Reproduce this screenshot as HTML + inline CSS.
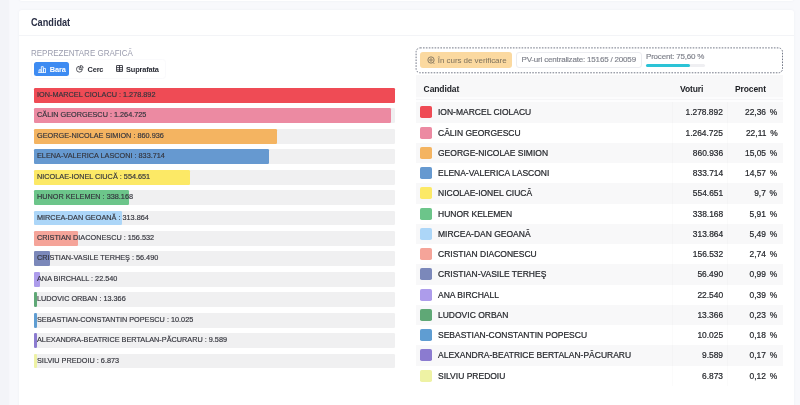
<!DOCTYPE html>
<html lang="ro"><head><meta charset="utf-8"><title>Candidat</title>
<style>
*{box-sizing:border-box;margin:0;padding:0}
html,body{width:800px;height:405px;overflow:hidden}
body{background:#f8f9fc;font-family:"Liberation Sans",sans-serif;position:relative;color:#212529}
.strip{position:absolute;left:-2px;top:0;width:11.4px;height:405px;background:#f3f4f8;box-shadow:0 0 1.5px #f3f4f8}
.prev{position:absolute;left:19.2px;top:-10px;width:775px;height:11.3px;background:#fff;border-radius:0 0 3px 3px;box-shadow:0 0 3px rgba(40,50,90,.05)}
.card{position:absolute;left:19.3px;top:9.5px;width:775px;height:420px;background:#fff;border-radius:3px 3px 0 0;box-shadow:0 0 3px rgba(40,50,90,.05)}
.hd{position:absolute;left:0;top:0;width:775px;height:26.1px;border-bottom:1px solid #f3f4f7}
.hd b{position:absolute;left:11.7px;top:6.1px;font-size:10px;line-height:14px;font-weight:700;color:#2a2f45;transform:scaleX(.915);transform-origin:0 50%}
.abs{position:absolute}
.lbl{position:absolute;left:31.4px;top:47.1px;font-size:8.9px;line-height:13px;color:#9a9cae;white-space:nowrap;transform:scaleX(.9);transform-origin:0 50%}
.btn{position:absolute;top:62.3px;height:13.3px;font-size:7.4px;line-height:13.4px;letter-spacing:-0.15px;font-weight:700;white-space:nowrap;color:#2b2d36}
.btn svg{position:absolute;top:3px;left:0}
.b1{left:33.6px;width:35.6px;background:#3d8bf2;border-radius:2.5px;color:#fff}
.trk{position:absolute;left:33.6px;width:361px;height:14.8px;background:#f0f0f1;border-radius:1.3px}
.fill{position:absolute;left:0;top:0;height:100%;border-radius:1.3px}
.bl{position:absolute;left:3.4px;top:0;line-height:14.1px;font-size:7.8px;transform:scaleX(.935);transform-origin:0 50%;color:#34353d;-webkit-text-stroke:0.18px #34353d;white-space:nowrap}
.status{position:absolute;left:415px;top:46.5px;width:370px;height:28px;overflow:visible}
.badge{position:absolute;left:420.2px;top:52.2px;width:92px;height:16px;letter-spacing:-0.05px;background:#fbd9a0;border-radius:3px;color:#7d715c;font-size:8px;line-height:17.2px;white-space:nowrap}
.pv{position:absolute;left:515.5px;top:52.2px;width:126.5px;height:16px;border:1px solid #ebecf0;border-radius:3px;color:#7f818b;-webkit-text-stroke:0.15px #7f818b;font-size:8px;letter-spacing:-0.18px;line-height:14.2px;white-space:nowrap;padding-left:5px}
.pr{position:absolute;left:646px;top:51.4px;letter-spacing:-0.2px;font-size:8px;line-height:12px;color:#7f818b;-webkit-text-stroke:0.15px #7f818b;white-space:nowrap}
.pg{position:absolute;left:646px;top:63.6px;width:59px;height:3.6px;border-radius:2px;background:#efeff2}
.pg i{display:block;width:43.9px;height:3.6px;border-radius:2px;background:#2cc3d6}
.th{position:absolute;left:416px;top:75px;width:367px;height:22.3px;background:#f8f8f9;font-size:8.5px;letter-spacing:-0.1px;font-weight:700;color:#1d1f24}
.th span{position:absolute;top:8px;line-height:12px;white-space:nowrap}
.row{position:absolute;left:416px;width:367px;height:20.25px;font-size:9.2px;color:#25272c;background:#fff;-webkit-text-stroke:0.22px #25272c}
.row.odd{background:#f8f8f9}
.row span{position:absolute;top:0.2px;line-height:20.65px;white-space:nowrap}
.sw{position:absolute;left:4.3px;top:4.2px;width:11.8px;height:11.8px;border-radius:1.8px}
.nm{left:22.4px;transform:scaleX(.925);transform-origin:0 50%}
.vt{right:60.2px;text-align:right;transform:scaleX(.915);transform-origin:100% 50%}
.pc{right:5.5px;text-align:right;transform:scaleX(.915);transform-origin:100% 50%;word-spacing:1.6px}
.vline{position:absolute;top:102.3px;width:1px;height:284px;background:rgba(0,0,20,.014)}
.grp{position:absolute;left:31px;top:59.2px;width:134.8px;height:19.5px;border:1px solid #fafafc;border-radius:3.5px}
.thb{position:absolute;left:416px;top:97.3px;width:367px;height:5px;background:linear-gradient(#fcfcfd 0,#fcfcfd 34%,#f5f5f7 34%,#f5f5f7 62%,#fdfdfe 62%)}
</style></head><body>
<div class="strip"></div>
<div class="prev"></div>
<div class="card"><div class="hd"><b>Candidat</b></div></div>
<div class="lbl">REPREZENTARE GRAFICĂ</div>
<div class="grp"></div>
<div class="btn b1"><svg width="8.6" height="7" viewBox="0 0 16 13" style="left:4.2px;top:3.4px" fill="none" stroke="#fff" stroke-width="1.5"><path d="M0.3 12.2h15.4"/><path d="M2 12V7h3.6v5M6.2 12V1.2h3.6V12M10.4 12V4.5H14V12"/></svg><span style="position:absolute;left:16.2px;top:.6px">Bara</span></div>
<div class="btn" style="left:76.3px"><svg width="7.6" height="7.6" viewBox="0 0 16 16" style="top:2.8px;left:.2px" fill="none" stroke="#2b2d36" stroke-width="1.6"><path d="M6.8 2.6A6.2 6.2 0 1 0 13.4 9.2H6.8z"/><path d="M9.6 0.9a5.6 5.6 0 0 1 5.5 5.5H9.6z"/></svg><span style="position:absolute;left:11.2px;top:.6px">Cerc</span></div>
<div class="btn" style="left:115.3px"><svg width="7" height="7" viewBox="0 0 16 16" style="top:3px;left:.4px" fill="none" stroke="#2b2d36" stroke-width="2"><rect x="1" y="1" width="14" height="14" rx="1"/><path d="M1 6h14M8 1v14M1 11h14"/></svg><span style="position:absolute;left:10.8px;top:.6px">Suprafata</span></div>
<div class="trk" style="top:88.00px"><div class="fill" style="width:361.0px;background:#ef4b55"></div><span class="bl">ION-MARCEL CIOLACU : 1.278.892</span></div>
<div class="trk" style="top:108.43px"><div class="fill" style="width:357.0px;background:#ec8aa2"></div><span class="bl">CĂLIN GEORGESCU : 1.264.725</span></div>
<div class="trk" style="top:128.86px"><div class="fill" style="width:243.0px;background:#f4b461"></div><span class="bl">GEORGE-NICOLAE SIMION : 860.936</span></div>
<div class="trk" style="top:149.29px"><div class="fill" style="width:235.3px;background:#6699d0"></div><span class="bl">ELENA-VALERICA LASCONI : 833.714</span></div>
<div class="trk" style="top:169.72px"><div class="fill" style="width:156.6px;background:#fce966"></div><span class="bl">NICOLAE-IONEL CIUCĂ : 554.651</span></div>
<div class="trk" style="top:190.15px"><div class="fill" style="width:95.5px;background:#6cc58a"></div><span class="bl">HUNOR KELEMEN : 338.168</span></div>
<div class="trk" style="top:210.58px"><div class="fill" style="width:88.6px;background:#acd6f8"></div><span class="bl">MIRCEA-DAN GEOANĂ : 313.864</span></div>
<div class="trk" style="top:231.01px"><div class="fill" style="width:44.2px;background:#f5a499"></div><span class="bl">CRISTIAN DIACONESCU : 156.532</span></div>
<div class="trk" style="top:251.44px"><div class="fill" style="width:16.0px;background:#7b88ba"></div><span class="bl">CRISTIAN-VASILE TERHEŞ : 56.490</span></div>
<div class="trk" style="top:271.87px"><div class="fill" style="width:6.4px;background:#ad9ceb"></div><span class="bl">ANA BIRCHALL : 22.540</span></div>
<div class="trk" style="top:292.30px"><div class="fill" style="width:3.8px;background:#5fa876"></div><span class="bl">LUDOVIC ORBAN : 13.366</span></div>
<div class="trk" style="top:312.73px"><div class="fill" style="width:3.0px;background:#5f9dd2"></div><span class="bl">SEBASTIAN-CONSTANTIN POPESCU : 10.025</span></div>
<div class="trk" style="top:333.16px"><div class="fill" style="width:3.0px;background:#8b7bd0"></div><span class="bl">ALEXANDRA-BEATRICE BERTALAN-PĂCURARU : 9.589</span></div>
<div class="trk" style="top:353.59px"><div class="fill" style="width:3.0px;background:#eef2a4"></div><span class="bl">SILVIU PREDOIU : 6.873</span></div>
<svg class="status" width="370" height="28"><rect x="1.1" y="0.9" width="366.4" height="24.9" rx="4" fill="none" stroke="#737887" stroke-width="1" stroke-dasharray="1.6 1.3"/></svg>
<div class="badge"><svg class="abs" style="left:6.8px;top:4px" width="8" height="8" viewBox="0 0 16 16" fill="none" stroke="#7d715c" stroke-width="1.8"><circle cx="8" cy="8" r="6.3"/><circle cx="8" cy="8" r="2.4"/><path d="M12.5 13.5l2 2"/></svg><span class="abs" style="left:17.6px;top:0">În curs de verificare</span></div>
<div class="pv">PV-uri centralizate: 15165 / 20059</div>
<div class="pr">Procent: 75,60 %</div>
<div class="pg"><i></i></div>
<div class="th"><span style="left:7.6px">Candidat</span><span style="left:264px">Voturi</span><span style="left:319px">Procent</span></div>
<div class="row odd" style="top:102.30px"><i class="sw" style="background:#ef4b55"></i><span class="nm">ION-MARCEL CIOLACU</span><span class="vt">1.278.892</span><span class="pc">22,36 %</span></div>
<div class="row" style="top:122.55px"><i class="sw" style="background:#ec8aa2"></i><span class="nm">CĂLIN GEORGESCU</span><span class="vt">1.264.725</span><span class="pc">22,11 %</span></div>
<div class="row odd" style="top:142.80px"><i class="sw" style="background:#f4b461"></i><span class="nm">GEORGE-NICOLAE SIMION</span><span class="vt">860.936</span><span class="pc">15,05 %</span></div>
<div class="row" style="top:163.05px"><i class="sw" style="background:#6699d0"></i><span class="nm">ELENA-VALERICA LASCONI</span><span class="vt">833.714</span><span class="pc">14,57 %</span></div>
<div class="row odd" style="top:183.30px"><i class="sw" style="background:#fce966"></i><span class="nm">NICOLAE-IONEL CIUCĂ</span><span class="vt">554.651</span><span class="pc">9,7 %</span></div>
<div class="row" style="top:203.55px"><i class="sw" style="background:#6cc58a"></i><span class="nm">HUNOR KELEMEN</span><span class="vt">338.168</span><span class="pc">5,91 %</span></div>
<div class="row odd" style="top:223.80px"><i class="sw" style="background:#acd6f8"></i><span class="nm">MIRCEA-DAN GEOANĂ</span><span class="vt">313.864</span><span class="pc">5,49 %</span></div>
<div class="row" style="top:244.05px"><i class="sw" style="background:#f5a499"></i><span class="nm">CRISTIAN DIACONESCU</span><span class="vt">156.532</span><span class="pc">2,74 %</span></div>
<div class="row odd" style="top:264.30px"><i class="sw" style="background:#7b88ba"></i><span class="nm">CRISTIAN-VASILE TERHEŞ</span><span class="vt">56.490</span><span class="pc">0,99 %</span></div>
<div class="row" style="top:284.55px"><i class="sw" style="background:#ad9ceb"></i><span class="nm">ANA BIRCHALL</span><span class="vt">22.540</span><span class="pc">0,39 %</span></div>
<div class="row odd" style="top:304.80px"><i class="sw" style="background:#5fa876"></i><span class="nm">LUDOVIC ORBAN</span><span class="vt">13.366</span><span class="pc">0,23 %</span></div>
<div class="row" style="top:325.05px"><i class="sw" style="background:#5f9dd2"></i><span class="nm">SEBASTIAN-CONSTANTIN POPESCU</span><span class="vt">10.025</span><span class="pc">0,18 %</span></div>
<div class="row odd" style="top:345.30px"><i class="sw" style="background:#8b7bd0"></i><span class="nm">ALEXANDRA-BEATRICE BERTALAN-PĂCURARU</span><span class="vt">9.589</span><span class="pc">0,17 %</span></div>
<div class="row" style="top:365.55px"><i class="sw" style="background:#eef2a4"></i><span class="nm">SILVIU PREDOIU</span><span class="vt">6.873</span><span class="pc">0,12 %</span></div>
<div class="thb"></div>
<div class="vline" style="left:672.3px"></div>
<div class="vline" style="left:727.1px"></div>
</body></html>
